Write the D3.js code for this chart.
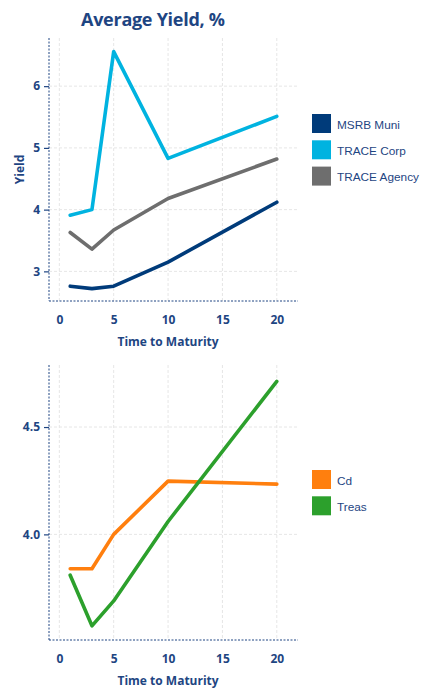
<!DOCTYPE html>
<html><head><meta charset="utf-8">
<script src="https://cdn.jsdelivr.net/npm/d3@7"></script>
<style>
body{margin:0;background:#fff;}
svg{display:block;font-family:"Open Sans",sans-serif;}
</style></head>
<body><svg id="c" width="422" height="688"></svg>
<script>
const maturities = [1, 3, 5, 10, 20];
const msrbMuni = [2.76, 2.72, 2.76, 3.15, 4.12];
const traceCorp = [3.91, 4.00, 6.56, 4.83, 5.51];
const traceAgency = [3.63, 3.36, 3.67, 4.18, 4.82];
const cd = [3.84, 3.84, 4.00, 4.248, 4.234];
const treas = [3.81, 3.574, 3.69, 4.06, 4.713];
const xTicks = [0, 5, 10, 15, 20];
const topYTicks = [3, 4, 5, 6];
const botYTicks = [4.0, 4.5];

const topSeries = [
  {name: "MSRB Muni", values: msrbMuni, color: "#003b7a"},
  {name: "TRACE Corp", values: traceCorp, color: "#00b3e0"},
  {name: "TRACE Agency", values: traceAgency, color: "#6e6e6e"}
];
const botSeries = [
  {name: "Cd", values: cd, color: "#ff7f0e"},
  {name: "Treas", values: treas, color: "#2ca02c"}
];

const svg = d3.select("#c");
const ink = "#1e4582";

svg.append("text").attr("x", 153).attr("y", 26).attr("text-anchor", "middle")
  .attr("font-size", 18).attr("font-weight", 700).attr("fill", ink)
  .attr("font-family", "Open Sans, sans-serif").attr("textLength", 144)
  .text("Average Yield, %");

function panel(cfg) {
  const x = d3.scaleLinear().domain([-0.95, 21.95]).range([49, 298]);
  const y = d3.scaleLinear().domain(cfg.yDomain).range([cfg.bottom, cfg.top]);
  const g = svg.append("g");
  // grid
  g.selectAll(".vg").data(xTicks).enter().append("line")
    .attr("x1", d => x(d)).attr("x2", d => x(d)).attr("y1", cfg.top).attr("y2", cfg.bottom)
    .attr("stroke", "#e6e6e6").attr("stroke-dasharray", "3,2").attr("stroke-width", 1);
  g.selectAll(".hg").data(cfg.yTicks).enter().append("line")
    .attr("x1", 49).attr("x2", 298).attr("y1", d => y(d)).attr("y2", d => y(d))
    .attr("stroke", "#e6e6e6").attr("stroke-dasharray", "3,2").attr("stroke-width", 1);
  // axes
  const yAx = g.append("g").attr("transform", "translate(49,0)")
    .call(d3.axisLeft(y).tickValues(cfg.yTicks).tickFormat(cfg.fmt).tickSize(5).tickPadding(4));
  yAx.select(".domain").attr("stroke", ink).attr("stroke-dasharray", "2,1.5").attr("d", `M0,${cfg.top}V${cfg.bottom}`);
  const xAx = g.append("g").attr("transform", `translate(0,${cfg.bottom})`)
    .call(d3.axisBottom(x).tickValues(xTicks).tickSize(0).tickPadding(14));
  xAx.select(".domain").attr("stroke", ink).attr("stroke-dasharray", "2,1.5").attr("d", "M49,0H298");
  [yAx, xAx].forEach(a => {
    a.selectAll(".tick line").attr("stroke", ink).attr("stroke-width", 1.2);
    a.selectAll("text").attr("fill", ink).attr("font-size", 12).attr("font-weight", 700)
      .attr("font-family", "Open Sans, sans-serif");
  });
  g.append("text").attr("x", x(10)).attr("y", cfg.bottom + 45).attr("text-anchor", "middle")
    .attr("font-size", 12).attr("font-weight", 700).attr("fill", ink).text("Time to Maturity");
  if (cfg.yLabel) {
    g.append("text").attr("transform", `translate(24,${(cfg.top + cfg.bottom) / 2}) rotate(-90)`)
      .attr("text-anchor", "middle").attr("font-size", 12).attr("font-weight", 700)
      .attr("fill", ink).text(cfg.yLabel);
  }
  const line = d3.line().x((d, i) => x(maturities[i])).y(d => y(d));
  cfg.series.forEach(s => {
    g.append("path").datum(s.values).attr("d", line).attr("fill", "none")
      .attr("stroke", s.color).attr("stroke-width", 3.6).attr("stroke-linejoin", "round")
      .attr("stroke-linecap", "round");
  });
  const lg = g.append("g").attr("transform", `translate(312,${cfg.legendTop})`);
  cfg.series.forEach((s, i) => {
    lg.append("rect").attr("x", 0).attr("y", i * 26.3).attr("width", 19).attr("height", 19).attr("fill", s.color);
    lg.append("text").attr("x", 25).attr("y", i * 26.3 + 14.5).attr("font-size", 11.8)
      .attr("font-family", "Liberation Sans, sans-serif").attr("fill", ink).text(s.name);
  });
}

panel({top: 38, bottom: 301, yDomain: [2.52, 6.78], yTicks: topYTicks, fmt: d3.format("d"),
  series: topSeries, yLabel: "Yield", legendTop: 114});
panel({top: 365, bottom: 640, yDomain: [3.508, 4.789], yTicks: botYTicks, fmt: d3.format(".1f"),
  series: botSeries, yLabel: null, legendTop: 470});
</script></body></html>
